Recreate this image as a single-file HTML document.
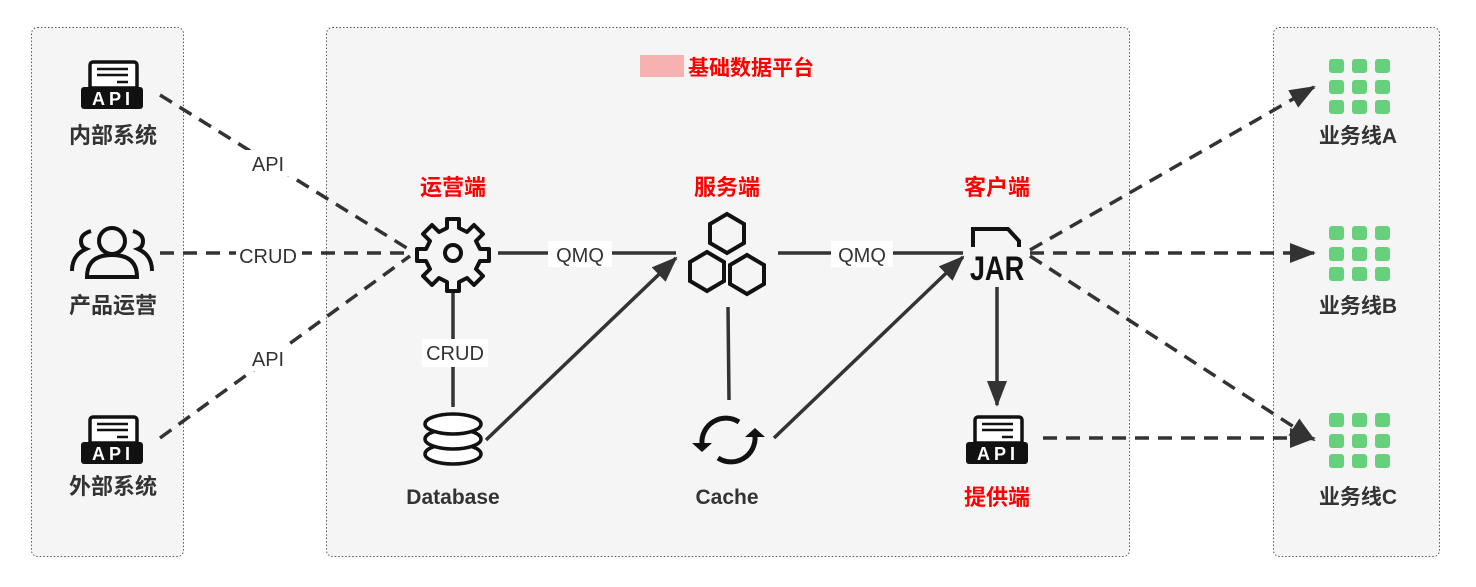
<!DOCTYPE html>
<html><head><meta charset="utf-8"><style>
body{margin:0;background:#fff}
text{font-family:"Liberation Sans","Noto Sans CJK SC",sans-serif}
</style></head><body>
<svg width="1476" height="582" viewBox="0 0 1476 582" xmlns="http://www.w3.org/2000/svg">
<defs>
<marker id="ab" markerWidth="26" markerHeight="20" refX="24" refY="10" orient="auto" markerUnits="userSpaceOnUse" viewBox="0 0 26 20">
<path d="M0,0 L26,10 L0,20 z" fill="#333"/></marker>
<g id="api">
<path d="M-22,3 v-23 a3,3 0 0 1 3,-3 h41 a3,3 0 0 1 3,3 v23 z" fill="#fff" stroke="#111" stroke-width="3.5"/>
<line x1="-15" y1="-16" x2="16" y2="-16" stroke="#111" stroke-width="2.5"/>
<line x1="-15" y1="-10" x2="16" y2="-10" stroke="#111" stroke-width="2.5"/>
<line x1="5" y1="-3" x2="16" y2="-3" stroke="#111" stroke-width="2.5"/>
<rect x="-31" y="2" width="62" height="22" rx="3" fill="#111"/>
<text x="1" y="20" text-anchor="middle" font-size="18" font-weight="bold" fill="#fff" letter-spacing="4">API</text>
</g>
<g id="grid" fill="#66d17a">
<rect x="-27" y="-27" width="15" height="14" rx="3"/><rect x="-4" y="-27" width="15" height="14" rx="3"/><rect x="19" y="-27" width="15" height="14" rx="3"/>
<rect x="-27" y="-6" width="15" height="14" rx="3"/><rect x="-4" y="-6" width="15" height="14" rx="3"/><rect x="19" y="-6" width="15" height="14" rx="3"/>
<rect x="-27" y="14" width="15" height="14" rx="3"/><rect x="-4" y="14" width="15" height="14" rx="3"/><rect x="19" y="14" width="15" height="14" rx="3"/>
</g>
</defs>
<rect x="31.5" y="27.5" width="152" height="529" rx="6" fill="#f5f5f5" stroke="#555" stroke-dasharray="1.5,2"/>
<rect x="326.5" y="27.5" width="803" height="529" rx="6" fill="#f5f5f5" stroke="#555" stroke-dasharray="1.5,2"/>
<rect x="1273.5" y="27.5" width="166" height="529" rx="6" fill="#f5f5f5" stroke="#555" stroke-dasharray="1.5,2"/>

<g fill="#ff0000" font-weight="bold" font-size="22" text-anchor="middle">
<rect x="640" y="55" width="44" height="22" fill="#f6a0a0" opacity="0.8"/>
<text x="751" y="75" font-size="21">基础数据平台</text>
<text x="453" y="195">运营端</text>
<text x="727" y="195">服务端</text>
<text x="997" y="195">客户端</text>
<text x="997" y="505">提供端</text>
</g>
<g fill="#333" font-weight="bold" font-size="22" text-anchor="middle">
<text x="113" y="143">内部系统</text>
<text x="113" y="313">产品运营</text>
<text x="113" y="494">外部系统</text>
<text x="453" y="504" font-size="21">Database</text>
<text x="727" y="504" font-size="21">Cache</text>
<text x="1358" y="143" font-size="21">业务线A</text>
<text x="1358" y="313" font-size="21">业务线B</text>
<text x="1358" y="504" font-size="21">业务线C</text>
</g>

<g stroke="#333" stroke-width="3.5" fill="none">
<line x1="160" y1="95" x2="410" y2="250" stroke-dasharray="14,9"/>
<line x1="160" y1="253" x2="410" y2="253" stroke-dasharray="14,9"/>
<line x1="160" y1="438" x2="410" y2="256" stroke-dasharray="14,9"/>
<line x1="498" y1="253" x2="676" y2="253"/>
<line x1="486" y1="440" x2="676" y2="258" marker-end="url(#ab)"/>
<line x1="778" y1="253" x2="963" y2="253"/>
<line x1="774" y1="438" x2="963" y2="257" marker-end="url(#ab)"/>
<line x1="453" y1="292" x2="453" y2="407"/>
<line x1="728" y1="307" x2="729" y2="400"/>
<line x1="997" y1="287" x2="997" y2="405" marker-end="url(#ab)"/>
<line x1="1030" y1="250" x2="1314" y2="87" stroke-dasharray="14,9" marker-end="url(#ab)"/>
<line x1="1030" y1="253" x2="1314" y2="253" stroke-dasharray="14,9" marker-end="url(#ab)"/>
<line x1="1030" y1="256" x2="1314" y2="440" stroke-dasharray="14,9" marker-end="url(#ab)"/>
<line x1="1043" y1="438" x2="1314" y2="438" stroke-dasharray="14,9" marker-end="url(#ab)"/>
</g>
<g font-size="20" fill="#333" text-anchor="middle">
<rect x="244" y="150" width="48" height="26" fill="#fff"/><text x="268" y="171">API</text>
<rect x="236" y="242" width="66" height="26" fill="#fff"/><text x="268" y="263">CRUD</text>
<rect x="244" y="345" width="48" height="26" fill="#fff"/><text x="268" y="366">API</text>
<rect x="422" y="339" width="66" height="28" fill="#fff"/><text x="455" y="360">CRUD</text>
<rect x="548" y="241" width="64" height="26" fill="#fff"/><text x="580" y="262">QMQ</text>
<rect x="831" y="241" width="62" height="26" fill="#fff"/><text x="862" y="262">QMQ</text>
</g>

<use href="#api" x="112" y="85"/>
<use href="#api" x="112" y="440"/>
<use href="#api" x="997" y="440"/>

<!-- people -->
<g stroke="#111" stroke-width="4" fill="none">
<circle cx="112" cy="241" r="13"/>
<path d="M87,277 q0,-22 25,-22 q25,0 25,22 z"/>
<path d="M91,231 q-10,3 -10,10 q0,6 5,8 q-14,6 -14,22"/>
<path d="M133,231 q10,3 10,10 q0,6 -5,8 q14,6 14,22"/>
</g>

<!-- gear -->
<g transform="translate(453,253)">
<path fill="none" stroke="#111" stroke-width="4" stroke-linejoin="round" d="M-6,-34 h12 v9 l8,4 l7,-7 l9,9 l-7,7 l4,8 h9 v12 h-9 l-4,8 l7,7 l-9,9 l-7,-7 l-8,4 v9 h-12 v-9 l-8,-4 l-7,7 l-9,-9 l7,-7 l-4,-8 h-9 v-12 h9 l4,-8 l-7,-7 l9,-9 l7,7 l8,-4 z"/>
<circle r="8" fill="none" stroke="#111" stroke-width="4"/>
</g>

<!-- database -->
<g stroke="#111" stroke-width="3.5" fill="#fff">
<ellipse cx="453" cy="454" rx="28" ry="10"/>
<ellipse cx="453" cy="439" rx="28" ry="10"/>
<ellipse cx="453" cy="424" rx="28" ry="10"/>
</g>

<!-- hexagons -->
<g fill="none" stroke="#111" stroke-width="4">
<polygon points="727,214 744,224 744,243 727,253 710,243 710,224"/>
<polygon points="707,252 724,262 724,281 707,291 690,281 690,262"/>
<polygon points="747,255 764,265 764,284 747,294 730,284 730,265"/>
</g>

<!-- cache -->
<g fill="none" stroke="#111" stroke-width="5">
<path d="M702,444 a24,24 0 0 1 37,-22"/>
<path d="M755,436 a24,24 0 0 1 -37,22"/>
</g>
<polygon points="692,443 712,443 702,452" fill="#111"/>
<polygon points="745,437 765,437 755,428" fill="#111"/>

<!-- JAR -->
<path d="M973,247 v-18 h35 l11,12 v6" fill="none" stroke="#111" stroke-width="4"/>
<text transform="translate(997,280) scale(0.8,1)" text-anchor="middle" font-size="34" font-weight="bold" fill="#111">JAR</text>

<use href="#grid" x="1356" y="86"/>
<use href="#grid" x="1356" y="253"/>
<use href="#grid" x="1356" y="440"/>
</svg>
</body></html>
